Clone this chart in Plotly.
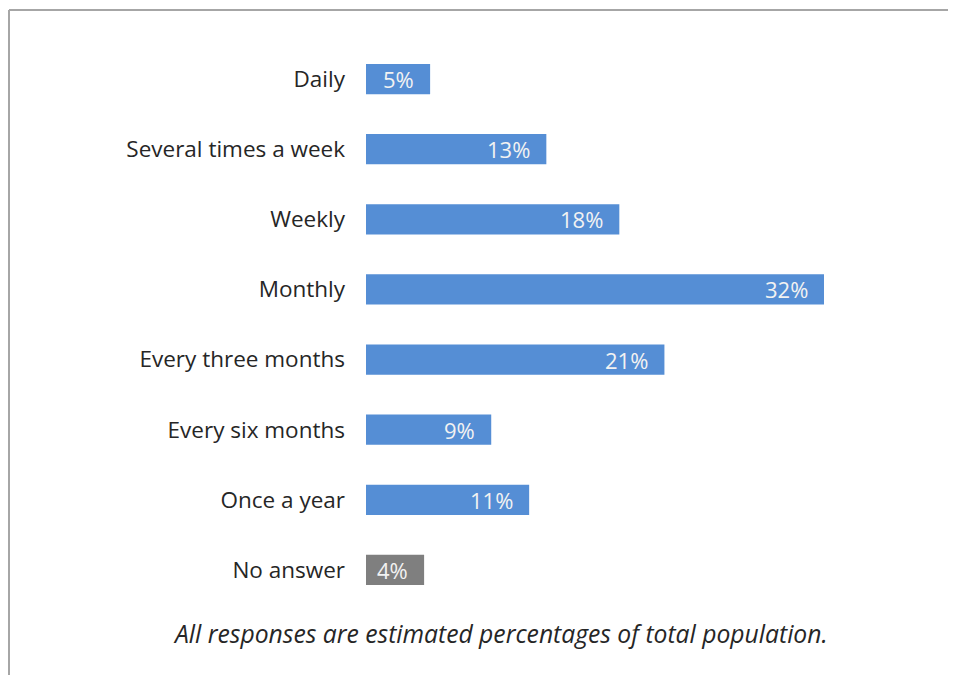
import plotly.graph_objects as go

categories = ["Daily", "Several times a week", "Weekly", "Monthly",
              "Every three months", "Every six months", "Once a year", "No answer"]
values = [4.48, 12.6, 17.7, 32.0, 20.85, 8.75, 11.4, 4.06]
labels = ["5%", "13%", "18%", "32%", "21%", "9%", "11%", "4%"]
colors = ["#558ED5"] * 7 + ["#7F7F7F"]

OFF = 8  # page body margin
W, H = 956 - OFF, 675 - OFF
ml, mr, mt, mb = 366 - OFF, 100, 44 - OFF, 70
pw = W - ml - mr
ph = H - mt - mb

FONT = "Open Sans, Noto Sans, sans-serif"

fig = go.Figure(go.Bar(
    y=categories, x=values, orientation="h",
    marker=dict(color=colors, line=dict(width=0)),
    width=0.43, hoverinfo="skip",
))

def px2x(p):
    return (p - OFF - ml) / pw

def px2y(p):
    return (H - mb - (p - OFF)) / ph

annotations = [
    dict(text=lab, x=v, y=cat, xref="x", yref="y", xanchor="right", yanchor="middle",
         xshift=-14, showarrow=False,
         font=dict(family=FONT, size=22, color="#F2F2F2"))
    for cat, v, lab in zip(categories, values, labels)
]
annotations.append(
    dict(text="<i>All responses are estimated percentages of total population.</i>",
         xref="paper", yref="paper", x=px2x(500), y=px2y(633),
         xanchor="center", yanchor="middle", showarrow=False,
         font=dict(family=FONT, size=24.7, color="#262626"))
)

fig.update_layout(
    width=W, height=H,
    margin=dict(l=ml, r=mr, t=mt, b=mb),
    paper_bgcolor="white", plot_bgcolor="white",
    showlegend=False,
    xaxis=dict(range=[0, 32.0 * pw / 458], visible=False, fixedrange=True),
    yaxis=dict(autorange="reversed", showgrid=False, zeroline=False, showline=False,
               ticks="", ticklabelstandoff=20,
               tickfont=dict(family=FONT, size=22.5, color="#262626")),
    font=dict(family=FONT),
    shapes=[
        dict(type="line", xref="paper", yref="paper", x0=px2x(9), x1=px2x(960),
             y0=px2y(10), y1=px2y(10), line=dict(color="#A6A6A6", width=2)),
        dict(type="line", xref="paper", yref="paper", x0=px2x(9), x1=px2x(9),
             y0=px2y(10), y1=px2y(680), line=dict(color="#A6A6A6", width=2)),
    ],
    annotations=annotations,
)

fig.write_html("out.html")
